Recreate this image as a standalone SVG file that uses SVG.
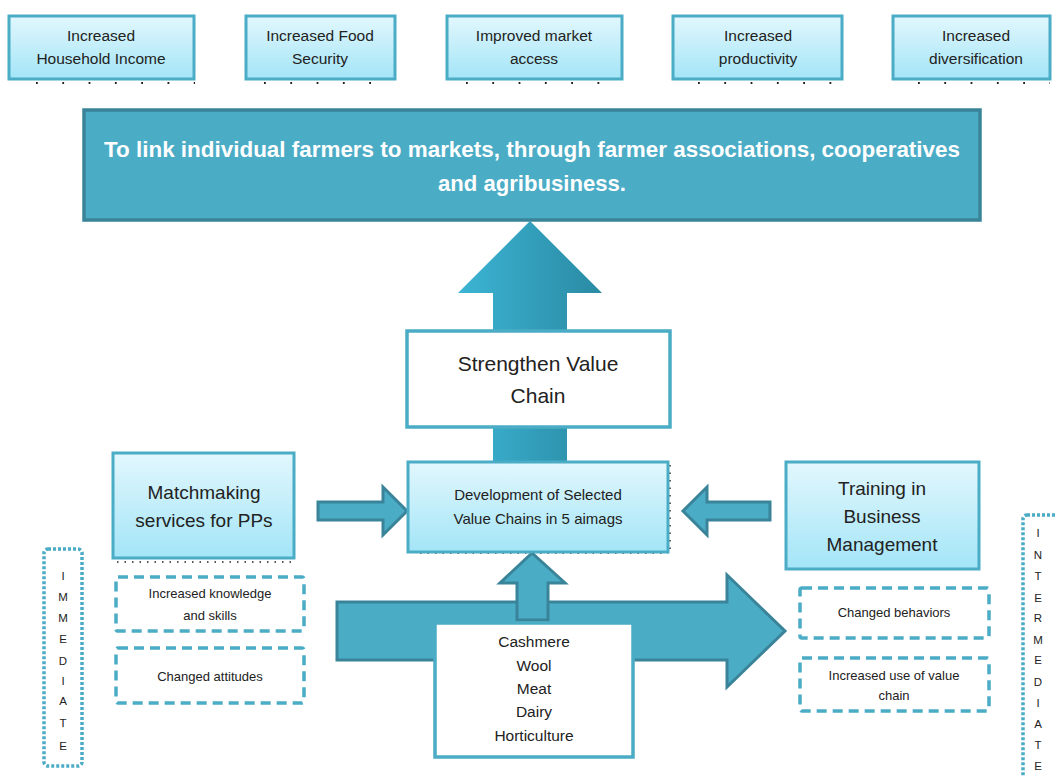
<svg xmlns="http://www.w3.org/2000/svg" width="1055" height="776" viewBox="0 0 1055 776">
<defs>
<linearGradient id="lb" x1="0" y1="0" x2="0" y2="1">
<stop offset="0" stop-color="#E2F7FD"/>
<stop offset="1" stop-color="#A3E5F7"/>
</linearGradient>
<linearGradient id="ua" x1="0" y1="0" x2="1" y2="0">
<stop offset="0" stop-color="#3CB4D4"/>
<stop offset="1" stop-color="#2A8AA3"/>
</linearGradient>
<style>
.t{font-family:"Liberation Sans",Arial,sans-serif;fill:#222;text-anchor:middle}
.lb{fill:url(#lb);stroke:#4BACC6;stroke-width:3}
.wb{fill:#fff;stroke:#4BACC6;stroke-width:3.5}
.dash{fill:#fff;stroke:#4BACC6;stroke-width:3.5;stroke-dasharray:10 6}
.dot{fill:#fff;stroke:#4BACC6;stroke-width:3.5;stroke-dasharray:3 2}
.ar{fill:#4BACC6;stroke:#3A8499;stroke-width:3;stroke-linejoin:miter}
.bd{fill:none;stroke:#222;stroke-width:1.5;stroke-dasharray:1.5 6}
.sd{fill:none;stroke:#222;stroke-width:1.8;stroke-dasharray:1.8 24.5}
</style>
</defs>
<rect width="1055" height="776" fill="#fff"/>

<g id="outcomes">
<g id="n-income"><rect class="lb" x="9" y="16" width="185" height="63"/><text class="t" font-size="15.5" x="101" y="41">Increased</text><text class="t" font-size="15.5" x="101" y="64">Household Income</text></g>
<g id="n-food"><rect class="lb" x="246" y="16" width="149" height="63"/><text class="t" font-size="15.5" x="320" y="41">Increased Food</text><text class="t" font-size="15.5" x="320" y="64">Security</text></g>
<g id="n-market"><rect class="lb" x="447" y="16" width="175" height="63"/><text class="t" font-size="15.5" x="534" y="41">Improved market</text><text class="t" font-size="15.5" x="534" y="64">access</text></g>
<g id="n-prod"><rect class="lb" x="673" y="16" width="169" height="63"/><text class="t" font-size="15.5" x="758" y="41">Increased</text><text class="t" font-size="15.5" x="758" y="64">productivity</text></g>
<g id="n-div"><rect class="lb" x="893" y="16" width="157" height="63"/><text class="t" font-size="15.5" x="976" y="41">Increased</text><text class="t" font-size="15.5" x="976" y="64">diversification</text></g>
</g>

<g id="connectors">
<path d="M493,462 V293 H458 L530,221 L602,293 H567 V462 Z" fill="url(#ua)"/>
<path d="M318,502 H383 V487 L407,511 L383,535 V520 H318 Z" class="ar"/>
<path d="M770,502 H707 V487 L683,511 L707,535 V520 H770 Z" class="ar"/>
<path d="M337,602 H727 V575 L785,631 L727,687 V660 H337 Z" class="ar"/>
<path d="M517,620 V583 H500 L532,553 L565,583 H548 V620 Z" class="ar"/>
</g>

<g id="dots">
<line class="sd" x1="36" y1="83" x2="195" y2="83"/>
<line class="sd" x1="264" y1="83" x2="395" y2="83"/>
<line class="sd" x1="466" y1="83" x2="622" y2="83"/>
<line class="sd" x1="698" y1="83" x2="842" y2="83"/>
<line class="sd" x1="918" y1="83" x2="1050" y2="83"/>
<line class="bd" x1="117" y1="562" x2="292" y2="562"/>
<line class="bd" x1="670" y1="465" x2="670" y2="552"/>
<line class="bd" x1="420" y1="553" x2="668" y2="553"/>
</g>

<g id="n-goal">
<rect x="84" y="110" width="896" height="110" fill="#4BACC6" stroke="#3A8499" stroke-width="3.5"/>
<text x="532" y="157" font-family="Liberation Sans Narrow,Liberation Sans,Arial,sans-serif" font-size="22" font-weight="bold" fill="#fff" text-anchor="middle" textLength="856" lengthAdjust="spacingAndGlyphs">To link individual farmers to markets, through farmer associations, cooperatives</text>
<text x="532" y="191" font-family="Liberation Sans,Arial,sans-serif" font-size="22" font-weight="bold" fill="#fff" text-anchor="middle" textLength="188" lengthAdjust="spacingAndGlyphs">and agribusiness.</text>
</g>

<g id="n-strengthen">
<rect class="wb" x="407" y="331" width="263" height="96"/>
<text class="t" font-size="21" x="538" y="371">Strengthen Value</text>
<text class="t" font-size="21" x="538" y="403">Chain</text>
</g>

<g id="n-dev">
<rect class="lb" x="408" y="462" width="260" height="90"/>
<text class="t" font-size="15" x="538" y="500">Development of Selected</text>
<text class="t" font-size="15" x="538" y="524">Value Chains in 5 aimags</text>
</g>

<g id="n-match">
<rect class="lb" x="113" y="453" width="181" height="105"/>
<text class="t" font-size="19" x="204" y="499">Matchmaking</text>
<text class="t" font-size="19" x="204" y="527">services for PPs</text>
</g>

<g id="n-train">
<rect class="lb" x="786" y="462" width="193" height="107"/>
<text class="t" font-size="19" x="882" y="495">Training in</text>
<text class="t" font-size="19" x="882" y="523">Business</text>
<text class="t" font-size="19" x="882" y="551">Management</text>
</g>

<g id="n-commod">
<rect class="wb" x="435" y="623" width="198" height="134"/>
<text class="t" font-size="15.5" x="534" y="647">Cashmere</text>
<text class="t" font-size="15.5" x="534" y="671">Wool</text>
<text class="t" font-size="15.5" x="534" y="694">Meat</text>
<text class="t" font-size="15.5" x="534" y="717">Dairy</text>
<text class="t" font-size="15.5" x="534" y="741">Horticulture</text>
</g>

<g id="n-know">
<rect class="dash" x="116" y="577" width="188" height="54" rx="2"/>
<text class="t" font-size="13" x="210" y="598">Increased knowledge</text>
<text class="t" font-size="13" x="210" y="620">and skills</text>
</g>
<g id="n-att">
<rect class="dash" x="116" y="648" width="188" height="55" rx="2"/>
<text class="t" font-size="13" x="210" y="681">Changed attitudes</text>
</g>
<g id="n-beh">
<rect class="dash" x="800" y="588" width="189" height="50" rx="2"/>
<text class="t" font-size="13" x="894" y="617">Changed behaviors</text>
</g>
<g id="n-use">
<rect class="dash" x="800" y="658" width="189" height="53" rx="2"/>
<text class="t" font-size="13" x="894" y="680">Increased use of value</text>
<text class="t" font-size="13" x="894" y="700">chain</text>
</g>

<g id="n-immediate">
<rect class="dot" x="44" y="549" width="38" height="217" rx="4"/>
<g class="t" font-size="11.5">
<text x="63" y="580">I</text><text x="63" y="601">M</text><text x="63" y="622">M</text><text x="63" y="643">E</text><text x="63" y="665">D</text><text x="63" y="685">I</text><text x="63" y="705">A</text><text x="63" y="727">T</text><text x="63" y="750">E</text>
</g>
</g>

<g id="n-intermediate">
<rect class="dot" x="1023" y="515" width="45" height="280" rx="4"/>
<g class="t" font-size="11.5">
<text x="1038" y="537">I</text><text x="1038" y="559">N</text><text x="1038" y="580">T</text><text x="1038" y="602">E</text><text x="1038" y="622">R</text><text x="1038" y="644">M</text><text x="1038" y="664">E</text><text x="1038" y="686">D</text><text x="1038" y="707">I</text><text x="1038" y="728">A</text><text x="1038" y="749">T</text><text x="1038" y="770">E</text>
</g>
</g>
</svg>
